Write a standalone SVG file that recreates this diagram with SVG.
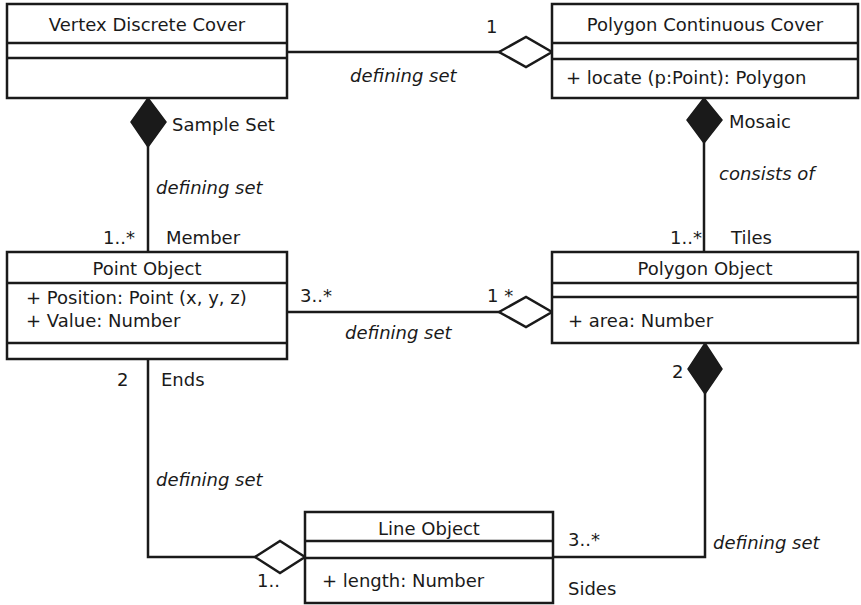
<svg xmlns="http://www.w3.org/2000/svg" width="861" height="605" viewBox="0 0 861 605">
<style>
.box{fill:#fff;stroke:#1a1a1a;stroke-width:2.5}
.div{stroke:#1a1a1a;stroke-width:2.5}
.t{font-family:"DejaVu Sans","Liberation Sans",sans-serif;font-size:18px;fill:#1a1a1a}
.c{text-anchor:middle}
.i{font-style:italic}
.ln{fill:none;stroke:#1a1a1a;stroke-width:2.5}
.ho{fill:#fff;stroke:#1a1a1a;stroke-width:2.5;stroke-linejoin:miter}
.fi{fill:#1a1a1a;stroke:#1a1a1a;stroke-width:1.5}
</style>
<rect width="861" height="605" fill="#fff"/>
<g id="connectors">
<line class="ln" x1="287" y1="52" x2="500" y2="52"/>
<polygon class="ho" points="499,52 526,37 552,52 526,67"/>
<line class="ln" x1="148" y1="98" x2="148" y2="252"/>
<polygon class="fi" points="148,98 166,122 148,147 131,122"/>
<line class="ln" x1="704" y1="98" x2="704" y2="252"/>
<polygon class="fi" points="704,98 722,120 704,143 687,120"/>
<line class="ln" x1="287" y1="312" x2="500" y2="312"/>
<polygon class="ho" points="499,312 526,297 552,312 526,327"/>
<polyline class="ln" points="148,359 148,557 256,557"/>
<polygon class="ho" points="255,557 280,541 305,557 280,573"/>
<polyline class="ln" points="553,557 705,557 705,393"/>
<polygon class="fi" points="705,343 722,369 705,394 688,369"/>
<text class="t" x="486" y="33">1</text>
<text class="t i" x="350" y="82">defining set</text>
<text class="t" x="172" y="131">Sample Set</text>
<text class="t i" x="156" y="194">defining set</text>
<text class="t" x="103" y="244">1..*</text>
<text class="t" x="166" y="244">Member</text>
<text class="t" x="729" y="128">Mosaic</text>
<text class="t i" x="719" y="180">consists of</text>
<text class="t" x="670" y="244">1..*</text>
<text class="t" x="731" y="244">Tiles</text>
<text class="t" x="300" y="302">3..*</text>
<text class="t" x="487" y="302">1 *</text>
<text class="t i" x="345" y="339">defining set</text>
<text class="t" x="117" y="386">2</text>
<text class="t" x="161" y="386">Ends</text>
<text class="t i" x="156" y="486">defining set</text>
<text class="t" x="257" y="587">1..</text>
<text class="t" x="568" y="546">3..*</text>
<text class="t" x="568" y="595">Sides</text>
<text class="t i" x="713" y="549">defining set</text>
<text class="t" x="672" y="378">2</text>
</g>
<g id="vertex-discrete-cover">
<rect class="box" x="7" y="4" width="280" height="94"/>
<line class="div" x1="7" y1="43" x2="287" y2="43"/>
<line class="div" x1="7" y1="58" x2="287" y2="58"/>
<text class="t c" x="147" y="31">Vertex Discrete Cover</text>
</g>
<g id="polygon-continuous-cover">
<rect class="box" x="552" y="4" width="306" height="94"/>
<line class="div" x1="552" y1="43" x2="858" y2="43"/>
<line class="div" x1="552" y1="59" x2="858" y2="59"/>
<text class="t c" x="705" y="31">Polygon Continuous Cover</text>
<text class="t" x="566" y="84">+ locate (p:Point): Polygon</text>
</g>
<g id="point-object">
<rect class="box" x="7" y="252" width="280" height="107"/>
<line class="div" x1="7" y1="283" x2="287" y2="283"/>
<line class="div" x1="7" y1="343" x2="287" y2="343"/>
<text class="t c" x="147" y="275">Point Object</text>
<text class="t" x="26" y="304">+ Position: Point (x, y, z)</text>
<text class="t" x="26" y="327">+ Value: Number</text>
</g>
<g id="polygon-object">
<rect class="box" x="552" y="252" width="306" height="91"/>
<line class="div" x1="552" y1="283" x2="858" y2="283"/>
<line class="div" x1="552" y1="297" x2="858" y2="297"/>
<text class="t c" x="705" y="275">Polygon Object</text>
<text class="t" x="568" y="327">+ area: Number</text>
</g>
<g id="line-object">
<rect class="box" x="305" y="512" width="248" height="91"/>
<line class="div" x1="305" y1="541" x2="553" y2="541"/>
<line class="div" x1="305" y1="558" x2="553" y2="558"/>
<text class="t c" x="429" y="535">Line Object</text>
<text class="t" x="322" y="587">+ length: Number</text>
</g>
</svg>
